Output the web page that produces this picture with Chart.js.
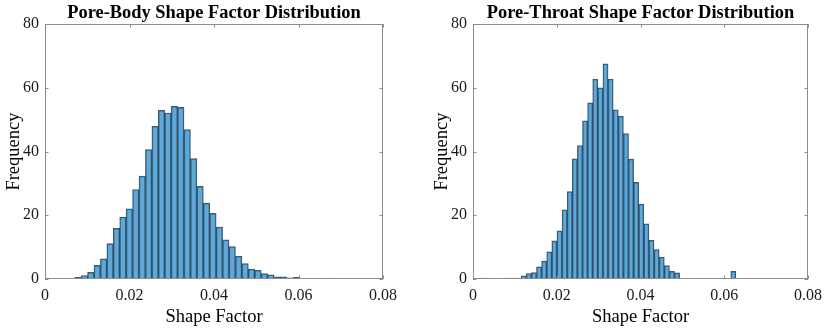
<!DOCTYPE html>
<html lang="en">
<head>
  <meta charset="UTF-8" />
  <title>Shape Factor Distribution</title>
  <script src="https://cdn.jsdelivr.net/npm/chart.js"></script>
  <style>
    body {
      margin: 0;
      background: white;
    }
    .wrap {
      position: relative;
      width: 829px;
      height: 329px;
    }
    .panel {
      position: absolute;
      top: 0;
    }
  </style>
</head>
<body>
  <div class="wrap">
    <div class="panel" style="left:0"><canvas id="bodyChart" width="414" height="329"></canvas></div>
    <div class="panel" style="left:414px"><canvas id="throatChart" width="415" height="329"></canvas></div>
  </div>

  <script>
    // histogram bins (first edge + width) and the counts
    const bodyBinStart = 0.00703;
    const bodyBinWidth = 0.001522;
    const bodyCounts = [0.5, 1.1, 2.1, 4.3, 6.3, 11.1, 15.9, 19.4, 22.0, 28.1,
      32.3, 40.6, 47.9, 52.9, 52.1, 54.2, 53.9, 46.9, 37.8, 29.1,
      23.8, 20.6, 16.3, 12.3, 10.2, 7.1, 4.8, 3.1, 2.7, 1.7,
      1.3, 0.7, 0.7, 0.4, 0.5, 0, 0, 0, 0, 0.3];

    const throatBinStart = 0.00173;
    const throatBinWidth = 0.001221;
    const throatCounts = [0.3, 0.3, 0, 0, 0, 0.3, 0.3, 0.3,
      1.0, 1.7, 2.0, 3.8, 5.6, 8.5, 12.0, 15.1, 21.7, 27.4,
      37.7, 41.9, 49.6, 55.3, 62.7, 60.0, 67.5, 62.7, 53.1, 51.1,
      45.6, 37.6, 30.3, 23.5, 17.3, 12.1, 9.2, 6.9, 4.2, 2.4, 1.9,
      0, 0, 0, 0, 0, 0, 0, 0, 0, 0, 2.4];

    const xTicks = [0, 0.02, 0.04, 0.06, 0.08];
    const xTickLabels = ["0", "0.02", "0.04", "0.06", "0.08"];
    const yTicks = [0, 20, 40, 60, 80];

    const serif = "'Liberation Serif', 'Times New Roman', serif";
    const axisGrey = "#8c8c8c";

    // box round the plot and MATLAB style inward ticks
    const boxPlugin = {
      id: "box",
      afterDraw(chart) {
        const { ctx, chartArea: a, scales } = chart;
        const len = 3.5;
        ctx.save();
        ctx.strokeStyle = axisGrey;
        ctx.lineWidth = 1;
        ctx.strokeRect(Math.round(a.left) + 0.5, Math.round(a.top) + 0.5,
          Math.round(a.right - a.left) - 1, Math.round(a.bottom - a.top) - 1);
        ctx.beginPath();
        xTicks.forEach(v => {
          const px = Math.round(scales.x.getPixelForValue(v)) + 0.5;
          ctx.moveTo(px, a.bottom); ctx.lineTo(px, a.bottom - len);
          ctx.moveTo(px, a.top); ctx.lineTo(px, a.top + len);
        });
        yTicks.forEach(v => {
          const py = Math.round(scales.y.getPixelForValue(v)) + 0.5;
          ctx.moveTo(a.left, py); ctx.lineTo(a.left + len, py);
          ctx.moveTo(a.right, py); ctx.lineTo(a.right - len, py);
        });
        ctx.stroke();
        ctx.restore();
      }
    };

    function makeHist(id, title, start, width, counts, padLeft, padRight) {
      const points = counts.map((c, i) => ({ x: start + (i + 0.5) * width, y: c }));
      return new Chart(document.getElementById(id), {
        type: "bar",
        data: {
          datasets: [{
            data: points,
            backgroundColor: "rgba(0, 114, 189, 0.62)",
            borderColor: "rgba(20, 30, 40, 0.75)",
            borderWidth: 0.8,
            barPercentage: 1,
            categoryPercentage: 1
          }]
        },
        options: {
          responsive: false,
          animation: false,
          layout: { padding: { left: padLeft, right: padRight, top: 0, bottom: 0 } },
          plugins: {
            legend: { display: false },
            tooltip: { enabled: false },
            title: {
              display: true,
              fullSize: false,
              text: title,
              color: "#000",
              font: { family: serif, size: 18.4, weight: "bold" },
              padding: { top: 2, bottom: 0 }
            }
          },
          scales: {
            x: {
              type: "linear",
              min: 0,
              max: 0.08,
              offset: false,
              afterFit: s => { s.height = 50; },
              afterBuildTicks: s => { s.ticks = xTicks.map(v => ({ value: v })); },
              grid: { display: false, offset: false, drawTicks: false },
              border: { display: false },
              ticks: {
                color: "#1a1a1a",
                font: { family: serif, size: 16 },
                padding: 7,
                maxRotation: 0,
                callback: (v, i) => xTickLabels[i]
              },
              title: {
                display: true,
                text: "Shape Factor",
                color: "#000",
                font: { family: serif, size: 18.5 },
                padding: { top: 0, bottom: 1 }
              }
            },
            y: {
              min: 0,
              max: 80,
              afterFit: s => { s.width = 45; },
              afterBuildTicks: s => { s.ticks = yTicks.map(v => ({ value: v })); },
              grid: { display: false, drawTicks: false },
              border: { display: false },
              ticks: {
                color: "#1a1a1a",
                font: { family: serif, size: 16 },
                padding: 6
              },
              title: {
                display: true,
                text: "Frequency",
                color: "#000",
                font: { family: serif, size: 18.5 },
                padding: { top: 3, bottom: 0 }
              }
            }
          }
        },
        plugins: [boxPlugin]
      });
    }

    makeHist("bodyChart", "Pore-Body Shape Factor Distribution",
      bodyBinStart, bodyBinWidth, bodyCounts, 0, 31);
    makeHist("throatChart", "Pore-Throat Shape Factor Distribution",
      throatBinStart, throatBinWidth, throatCounts, 14, 19);
  </script>
</body>
</html>
